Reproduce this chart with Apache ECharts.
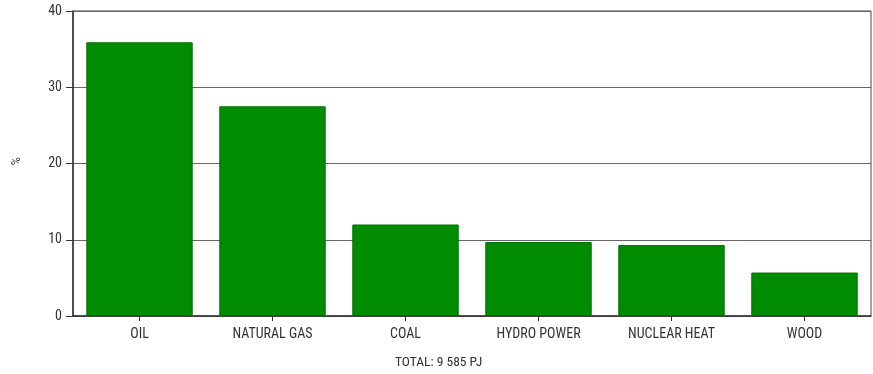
<!DOCTYPE html>
<html>
<head>
<meta charset="utf-8">
<script src="https://cdn.jsdelivr.net/npm/echarts@6/dist/echarts.min.js"></script>
<style>
  html, body { margin: 0; padding: 0; background: #fff; }
  #chart { width: 873px; height: 374px; }
</style>
</head>
<body>
<div id="chart"></div>
<script>
// Energy sources, share of total consumption (%)
var categories = ['OIL', 'NATURAL GAS', 'COAL', 'HYDRO POWER', 'NUCLEAR HEAT', 'WOOD'];
var shares = [35.9, 27.5, 12.0, 9.7, 9.3, 5.7];
var yTicks = [0, 10, 20, 30, 40];
var totalNote = 'TOTAL: 9 585 PJ';

var FONT = '"Liberation Sans Narrow", "Arial Narrow", "Roboto Condensed", "Liberation Sans", sans-serif';

var chart = echarts.init(document.getElementById('chart'), null, { renderer: 'canvas' });

chart.setOption({
  backgroundColor: '#ffffff',
  animation: false,
  grid: { left: 73, right: 2, top: 11, bottom: 58, show: true, borderColor: '#444', borderWidth: 1 },
  graphic: [
    {
      type: 'text',
      left: 395, top: 356,
      style: { text: totalNote, font: '13.5px ' + FONT, fill: '#333' }
    },
    {
      type: 'text',
      x: 21, y: 157, rotation: -Math.PI / 2,
      style: { text: '%', font: '13px ' + FONT, fill: '#444' }
    }
  ],
  xAxis: {
    type: 'category',
    data: categories,
    axisLine: { lineStyle: { color: '#333', width: 1.5 } },
    axisTick: { show: true, alignWithLabel: true, length: 5, lineStyle: { color: '#333' } },
    axisLabel: { color: '#333', fontFamily: FONT, fontSize: 14, margin: 11 }
  },
  yAxis: {
    type: 'value',
    min: yTicks[0],
    max: yTicks[yTicks.length - 1],
    interval: 10,
    axisLine: { show: true, lineStyle: { color: '#333', width: 1.5 } },
    axisTick: { show: true, length: 7, lineStyle: { color: '#333' } },
    axisLabel: { color: '#333', fontFamily: FONT, fontSize: 14, margin: 11 },
    splitLine: { show: true, lineStyle: { color: '#666', width: 1 } }
  },
  series: [{
    type: 'bar',
    data: shares,
    barCategoryGap: '20%',
    itemStyle: { color: '#008c00', borderColor: '#007000', borderWidth: 1 }
  }]
});
</script>
</body>
</html>
